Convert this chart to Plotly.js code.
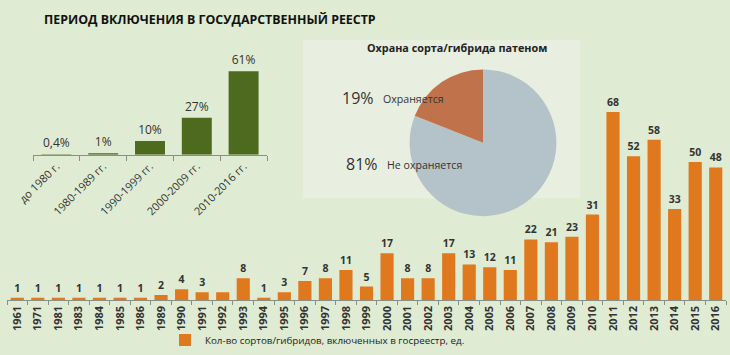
<!DOCTYPE html>
<html>
<head>
<meta charset="utf-8">
<script src="https://cdn.plot.ly/plotly-3.0.1.min.js"></script>
<style>html,body{margin:0;padding:0;background:#dfebd2;}#chart{width:730px;height:355px;}</style>
</head>
<body>
<div id="chart"></div>
<script>
// Main chart: varieties/hybrids included in the register per year
const years = ['1961','1971','1981','1983','1984','1985','1986','1989','1990','1991','1992','1993','1994','1995','1996','1997','1998','1999','2000','2001','2002','2003','2004','2005','2006','2007','2008','2009','2010','2011','2012','2013','2014','2015','2016'];
const counts = [1,1,1,1,1,1,1,2,4,3,3,8,1,3,7,8,11,5,17,8,8,17,13,12,11,22,21,23,31,68,52,58,33,50,48];
const countLabels = ['1','1','1','1','1','1','1','2','4','3','','8','1','3','7','8','11','5','17','8','8','17','13','12','11','22','21','23','31','68','52','58','33','50','48'];

// Inset: share by period
const periods = ['до 1980 г.','1980-1989 гг.','1990-1999 гг.','2000-2009 гг.','2010-2016 гг.'];
const shares = [0.4,1,10,27,61];
const shareLabels = ['0,4%','1%','10%','27%','61%'];

// Pie: patent protection
const pieLabels = ['Не охраняется','Охраняется'];
const pieValues = [81,19];
const pieText = ['81%','19%'];
const pieColors = ['#b4c2ca','#c0724a'];

const W = 730, H = 355;
const px = v => v / W;
const py = v => 1 - v / H;
const FONT = 'Open Sans';

const traces = [
  {
    type: 'bar', x: years, y: counts, text: countLabels,
    textposition: 'outside', cliponaxis: false,
    textfont: {family: FONT, size: 10.5, color: '#333', weight: 700},
    marker: {color: '#e0781d'},
    name: 'Кол-во сортов/гибридов, включенных в госреестр, ед.',
    xaxis: 'x', yaxis: 'y', hoverinfo: 'x+y'
  },
  {
    type: 'bar', x: periods, y: shares, text: shareLabels,
    textposition: 'outside', cliponaxis: false,
    textfont: {family: FONT, size: 12, color: '#333'},
    marker: {color: '#4e6a1e'},
    showlegend: false, xaxis: 'x2', yaxis: 'y2'
  },
  {
    type: 'pie', labels: pieLabels, values: pieValues, text: pieText,
    sort: false, direction: 'clockwise', rotation: 0,
    textinfo: 'none', showlegend: false,
    marker: {colors: pieColors, line: {width: 0}},
    domain: {x: [px(409), px(557)], y: [py(218), py(70)]}
  }
];

const annotations = [
  {text: 'ПЕРИОД ВКЛЮЧЕНИЯ В ГОСУДАРСТВЕННЫЙ РЕЕСТР', x: px(42), y: py(20), xanchor: 'left', yanchor: 'middle',
   font: {family: FONT, size: 12.4, color: '#111', weight: 700}},
  {text: 'Охрана сорта/гибрида патеном', x: px(457), y: py(48), xanchor: 'center', yanchor: 'middle',
   font: {family: FONT, size: 10.8, color: '#222', weight: 700}},
  {text: pieText[1], x: px(340), y: py(99), xanchor: 'left', yanchor: 'middle', font: {family: FONT, size: 16, color: '#333'}},
  {text: pieLabels[1], x: px(381), y: py(100), xanchor: 'left', yanchor: 'middle', font: {family: FONT, size: 10.6, color: '#333'}},
  {text: pieText[0], x: px(344), y: py(165), xanchor: 'left', yanchor: 'middle', font: {family: FONT, size: 16, color: '#333'}},
  {text: pieLabels[0], x: px(385), y: py(166), xanchor: 'left', yanchor: 'middle', font: {family: FONT, size: 10.6, color: '#333'}}
].map(a => Object.assign({xref: 'paper', yref: 'paper', showarrow: false}, a));

const layout = {
  width: W, height: H,
  margin: {l: 0, r: 0, t: 0, b: 0},
  paper_bgcolor: '#dfebd2', plot_bgcolor: 'rgba(0,0,0,0)',
  font: {family: FONT, color: '#333'},
  bargap: 0.36,
  showlegend: true,
  legend: {x: px(165), y: py(343), xanchor: 'left', yanchor: 'middle', orientation: 'h',
           bgcolor: 'rgba(0,0,0,0)', font: {family: FONT, size: 9.8, color: '#222'}, itemwidth: 30},
  shapes: [
    {type: 'rect', xref: 'paper', yref: 'paper', x0: px(303), x1: px(580), y0: py(200), y1: py(40),
     fillcolor: '#e8eee0', line: {width: 0}, layer: 'below'}
  ],
  xaxis: {
    domain: [px(7), px(726)], type: 'category', anchor: 'y',
    showgrid: false, zeroline: false, showline: true, linecolor: '#8a8f86', linewidth: 1,
    ticks: 'outside', tickson: 'boundaries', ticklen: 4, tickcolor: '#8a8f86',
    tickangle: -90, tickfont: {family: FONT, size: 11, color: '#333', weight: 700},
    fixedrange: true
  },
  yaxis: {
    domain: [1 - 303 / H, 1 - 30 / H], range: [0, 97.7], visible: false, fixedrange: true
  },
  xaxis2: {
    domain: [px(33), px(267)], type: 'category', anchor: 'y2',
    showgrid: false, zeroline: false, showline: true, linecolor: '#8a8f86', linewidth: 1,
    ticks: 'outside', tickson: 'boundaries', ticklen: 5, tickcolor: '#8a8f86',
    tickangle: -45, tickfont: {family: FONT, size: 11, color: '#333'},
    fixedrange: true
  },
  yaxis2: {
    domain: [1 - 156 / H, 1 - 60 / H], range: [0, 69.7], visible: false, fixedrange: true
  },
  annotations: annotations
};

Plotly.newPlot('chart', traces, layout, {displayModeBar: false, staticPlot: true});
</script>
</body>
</html>
